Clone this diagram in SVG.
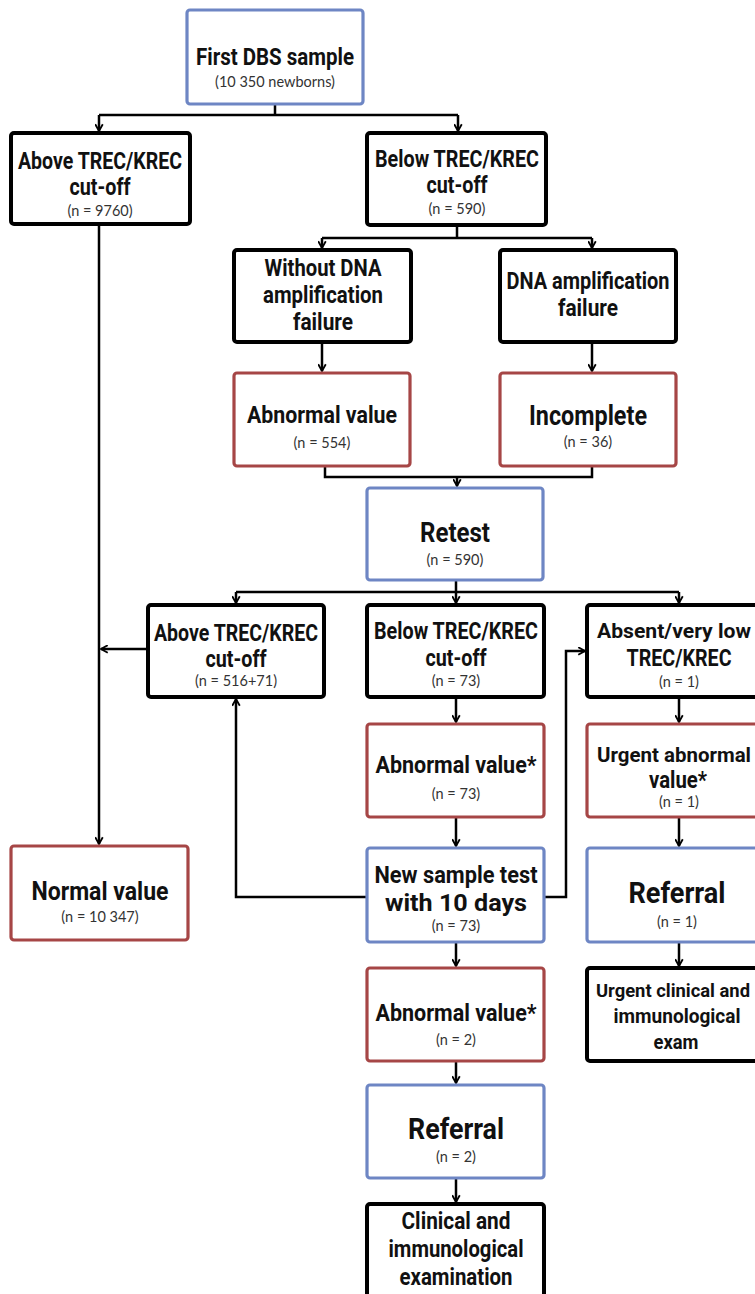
<svg xmlns="http://www.w3.org/2000/svg" width="755" height="1294" viewBox="0 0 755 1294">
<defs>
<style>
.bk{fill:#fff;stroke:#000;stroke-width:4}
.bl{fill:#fff;stroke:#6E86C4;stroke-width:3.2}
.rd{fill:#fff;stroke:#A64646;stroke-width:3.2}
.t{font-family:Roboto,"Liberation Sans",sans-serif;font-weight:700;font-size:23px;fill:#111;text-anchor:middle}
.s{font-family:Lato,"Open Sans",sans-serif;font-weight:400;font-size:14.5px;fill:#333;text-anchor:middle}
.c{fill:none;stroke:#000;stroke-width:2.5}
</style>
<marker id="ah" viewBox="0 0 10 10" refX="9" refY="5" markerWidth="9" markerHeight="9" markerUnits="userSpaceOnUse" orient="auto">
<path d="M1.5,0.8 L9,5 L1.5,9.2" fill="none" stroke="#000" stroke-width="2"/>
</marker>
</defs>
<rect width="755" height="1294" fill="#fff"/>

<g id="connectors">
<path class="c" d="M275,104 V115 M99,115 H458"/>
<path class="c" d="M99,115 V131" marker-end="url(#ah)"/>
<path class="c" d="M458,115 V131" marker-end="url(#ah)"/>
<path class="c" d="M99,224 V844" marker-end="url(#ah)"/>
<path class="c" d="M457,225 V238 M322,238 H592"/>
<path class="c" d="M322,238 V248" marker-end="url(#ah)"/>
<path class="c" d="M592,238 V248" marker-end="url(#ah)"/>
<path class="c" d="M322,342 V371" marker-end="url(#ah)"/>
<path class="c" d="M592,342 V371" marker-end="url(#ah)"/>
<path class="c" d="M325,466 V477 H592 V466"/>
<path class="c" d="M457,477 V486" marker-end="url(#ah)"/>
<path class="c" d="M456,580 V592 M236,592 H679"/>
<path class="c" d="M236,592 V603" marker-end="url(#ah)"/>
<path class="c" d="M456,592 V603" marker-end="url(#ah)"/>
<path class="c" d="M679,592 V603" marker-end="url(#ah)"/>
<path class="c" d="M148,649 H101" marker-end="url(#ah)"/>
<path class="c" d="M456,697 V722" marker-end="url(#ah)"/>
<path class="c" d="M456,817 V846" marker-end="url(#ah)"/>
<path class="c" d="M367,897 H236 V699" marker-end="url(#ah)"/>
<path class="c" d="M544,897 H566 V651 H585" marker-end="url(#ah)"/>
<path class="c" d="M679,697 V722" marker-end="url(#ah)"/>
<path class="c" d="M679,817 V846" marker-end="url(#ah)"/>
<path class="c" d="M679,942 V966" marker-end="url(#ah)"/>
<path class="c" d="M456,942 V966" marker-end="url(#ah)"/>
<path class="c" d="M456,1061 V1083" marker-end="url(#ah)"/>
<path class="c" d="M456,1178 V1202" marker-end="url(#ah)"/>
</g>

<g id="n1"><rect class="bl" x="187" y="10" width="176" height="94" rx="3"/>
<text class="t" x="275" y="65" style="font-size:24px" textLength="158" lengthAdjust="spacingAndGlyphs">First DBS sample</text>
<text class="s" x="275" y="87">(10 350 newborns)</text></g>

<g id="n2"><rect class="bk" x="11" y="133" width="179" height="91" rx="3"/>
<text class="t" x="100" y="169" textLength="164" lengthAdjust="spacingAndGlyphs">Above TREC/KREC</text>
<text class="t" x="100" y="195" textLength="61" lengthAdjust="spacingAndGlyphs">cut-off</text>
<text class="s" x="100" y="216">(n = 9760)</text></g>

<g id="n3"><rect class="bk" x="367" y="133" width="179" height="92" rx="3"/>
<text class="t" x="457" y="167" textLength="164" lengthAdjust="spacingAndGlyphs">Below TREC/KREC</text>
<text class="t" x="457" y="193" textLength="61" lengthAdjust="spacingAndGlyphs">cut-off</text>
<text class="s" x="457" y="214">(n = 590)</text></g>

<g id="n4"><rect class="bk" x="234" y="250" width="177" height="92" rx="3"/>
<text class="t" x="323" y="276" textLength="117" lengthAdjust="spacingAndGlyphs">Without DNA</text>
<text class="t" x="323" y="303" textLength="120" lengthAdjust="spacingAndGlyphs">amplification</text>
<text class="t" x="323" y="330" textLength="60" lengthAdjust="spacingAndGlyphs">failure</text></g>

<g id="n5"><rect class="bk" x="500" y="250" width="176" height="92" rx="3"/>
<text class="t" x="588" y="289" textLength="163" lengthAdjust="spacingAndGlyphs">DNA amplification</text>
<text class="t" x="588" y="316" textLength="60" lengthAdjust="spacingAndGlyphs">failure</text></g>

<g id="n6"><rect class="rd" x="234" y="373" width="176" height="93" rx="3"/>
<text class="t" x="322" y="423" textLength="150" lengthAdjust="spacingAndGlyphs">Abnormal value</text>
<text class="s" x="322" y="448">(n = 554)</text></g>

<g id="n7"><rect class="rd" x="500" y="373" width="176" height="93" rx="3"/>
<text class="t" x="588" y="425" style="font-size:27px" textLength="118" lengthAdjust="spacingAndGlyphs">Incomplete</text>
<text class="s" x="588" y="447">(n = 36)</text></g>

<g id="n8"><rect class="bl" x="367" y="488" width="176" height="92" rx="3"/>
<text class="t" x="455" y="542" style="font-size:27px" textLength="70" lengthAdjust="spacingAndGlyphs">Retest</text>
<text class="s" x="455" y="565">(n = 590)</text></g>

<g id="n9"><rect class="bk" x="148" y="605" width="176" height="92" rx="3"/>
<text class="t" x="236" y="641" textLength="164" lengthAdjust="spacingAndGlyphs">Above TREC/KREC</text>
<text class="t" x="236" y="667" textLength="61" lengthAdjust="spacingAndGlyphs">cut-off</text>
<text class="s" x="236" y="686">(n = 516+71)</text></g>

<g id="n10"><rect class="bk" x="367" y="605" width="177" height="92" rx="3"/>
<text class="t" x="456" y="639" textLength="164" lengthAdjust="spacingAndGlyphs">Below TREC/KREC</text>
<text class="t" x="456" y="666" textLength="61" lengthAdjust="spacingAndGlyphs">cut-off</text>
<text class="s" x="456" y="686">(n = 73)</text></g>

<g id="n11"><rect class="bk" x="587" y="605" width="176" height="92" rx="3"/>
<text class="t" x="674" y="638" style="font-size:20px" textLength="154" lengthAdjust="spacingAndGlyphs">Absent/very low</text>
<text class="t" x="679" y="666" textLength="105" lengthAdjust="spacingAndGlyphs">TREC/KREC</text>
<text class="s" x="679" y="687">(n = 1)</text></g>

<g id="n12"><rect class="rd" x="11" y="846" width="177" height="94" rx="3"/>
<text class="t" x="100" y="900" style="font-size:26px" textLength="137" lengthAdjust="spacingAndGlyphs">Normal value</text>
<text class="s" x="100" y="922">(n = 10 347)</text></g>

<g id="n13"><rect class="rd" x="367" y="724" width="177" height="93" rx="3"/>
<text class="t" x="456" y="773" textLength="161" lengthAdjust="spacingAndGlyphs">Abnormal value*</text>
<text class="s" x="456" y="799">(n = 73)</text></g>

<g id="n15"><rect class="rd" x="587" y="724" width="176" height="93" rx="3"/>
<text class="t" x="674" y="762" style="font-size:20px" textLength="154" lengthAdjust="spacingAndGlyphs">Urgent abnormal</text>
<text class="t" x="678" y="788" textLength="58" lengthAdjust="spacingAndGlyphs">value*</text>
<text class="s" x="679" y="807">(n = 1)</text></g>

<g id="n14"><rect class="bl" x="367" y="848" width="177" height="94" rx="3"/>
<text class="t" x="456" y="883" textLength="163" lengthAdjust="spacingAndGlyphs">New sample test</text>
<text class="t" x="456" y="911" style="font-size:24px" textLength="142" lengthAdjust="spacingAndGlyphs">with 10 days</text>
<text class="s" x="456" y="931">(n = 73)</text></g>

<g id="n16"><rect class="bl" x="587" y="848" width="176" height="94" rx="3"/>
<text class="t" x="677" y="903" style="font-size:29px" textLength="97" lengthAdjust="spacingAndGlyphs">Referral</text>
<text class="s" x="677" y="927">(n = 1)</text></g>

<g id="n17"><rect class="bk" x="587" y="968" width="176" height="93" rx="3"/>
<text class="t" x="673" y="997" style="font-size:19px" textLength="154" lengthAdjust="spacingAndGlyphs">Urgent clinical and</text>
<text class="t" x="677" y="1023" style="font-size:21px" textLength="127" lengthAdjust="spacingAndGlyphs">immunological</text>
<text class="t" x="676" y="1049" style="font-size:21px" textLength="45" lengthAdjust="spacingAndGlyphs">exam</text></g>

<g id="n18"><rect class="rd" x="367" y="968" width="177" height="93" rx="3"/>
<text class="t" x="456" y="1021" textLength="161" lengthAdjust="spacingAndGlyphs">Abnormal value*</text>
<text class="s" x="456" y="1045">(n = 2)</text></g>

<g id="n19"><rect class="bl" x="367" y="1085" width="177" height="93" rx="3"/>
<text class="t" x="456" y="1139" style="font-size:29px" textLength="96" lengthAdjust="spacingAndGlyphs">Referral</text>
<text class="s" x="456" y="1162">(n = 2)</text></g>

<g id="n20"><rect class="bk" x="367" y="1204" width="177" height="100" rx="3"/>
<text class="t" x="456" y="1229" textLength="109" lengthAdjust="spacingAndGlyphs">Clinical and</text>
<text class="t" x="456" y="1257" textLength="135" lengthAdjust="spacingAndGlyphs">immunological</text>
<text class="t" x="456" y="1285" textLength="113" lengthAdjust="spacingAndGlyphs">examination</text></g>
</svg>
